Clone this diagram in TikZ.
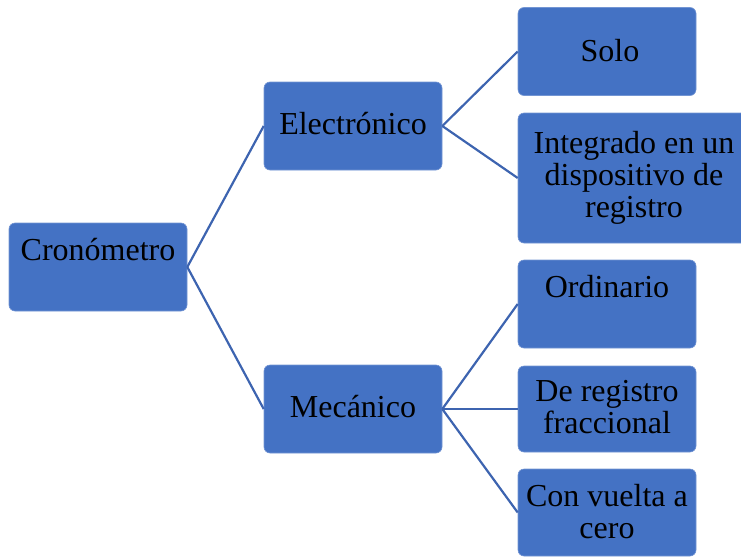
\documentclass[tikz,border=0pt]{standalone}
\usepackage{fontspec}
\setmainfont{Liberation Serif}
\definecolor{boxblue}{HTML}{4472C4}
\definecolor{linkblue}{HTML}{3D64B0}
\begin{document}
\begin{tikzpicture}[x=1pt,y=-1pt,
  box/.style={rectangle,rounded corners=6pt,fill=boxblue,draw=boxblue!75!white,line width=0.6pt,minimum width=178pt,minimum height=88pt,inner sep=0pt},
  txt/.style={font=\fontsize{32}{32}\selectfont,text=black,inner sep=0pt,align=center},
  link/.style={draw=linkblue,line width=2.2pt}]
\useasboundingbox (0,0) rectangle (741,557);
\begin{scope}
\clip (0,0) rectangle (741,557);
\node[box] (crono) at (98,267) {};
\node[box] (elec) at (353,126) {};
\node[box] (meca) at (353,409) {};
\node[box] (solo) at (607,51.5) {};
\node[box,minimum width=232pt,minimum height=130pt] (integ) at (634,178) {};
\node[box] (ordi) at (607,304) {};
\node[box,minimum height=86pt] (fracc) at (607,409) {};
\node[box,minimum height=87pt] (cero) at (607,512.5) {};
\end{scope}
\draw[link] (crono.east) -- (elec.west);
\draw[link] (crono.east) -- (meca.west);
\draw[link] (elec.east) -- (solo.west);
\draw[link] (elec.east) -- (integ.west);
\draw[link] (meca.east) -- (ordi.west);
\draw[link] (meca.east) -- (fracc.west);
\draw[link] (meca.east) -- (cero.west);
\node[txt,anchor=base] (cronoT) at (98,260) {Cronómetro};
\node[txt,anchor=base] (elecT) at (353,134) {Electrónico};
\node[txt,anchor=base] (mecaT) at (353,417) {Mecánico};
\node[txt,anchor=base] (soloT) at (610,61) {Solo};
\node[txt,anchor=base] (integT) at (634,217) {Integrado en un\\dispositivo de\\registro};
\node[txt,anchor=base] (ordiT) at (607,297) {Ordinario};
\node[txt,anchor=base] (fraccT) at (607,433) {De registro\\fraccional};
\node[txt,anchor=base] (ceroT) at (607,538) {Con vuelta a\\cero};
\end{tikzpicture}
\end{document}
